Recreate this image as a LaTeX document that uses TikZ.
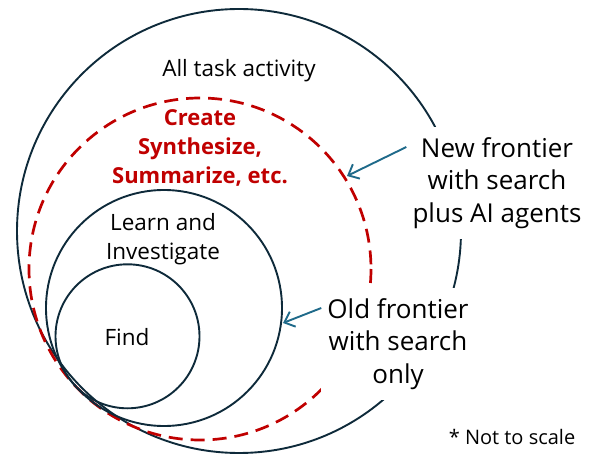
\documentclass[tikz,border=0pt]{standalone}
\usepackage{fontspec}
\setmainfont{Open Sans}
\usetikzlibrary{arrows.meta}
\definecolor{navy}{HTML}{0E2A3A}
\definecolor{darkred}{HTML}{C00000}
\definecolor{teal}{HTML}{1F6A8A}
\tikzset{
  ring/.style={draw=navy, line width=1.9pt},
  dashring/.style={draw=darkred, line width=2.7pt, dash pattern=on 14pt off 8pt},
  plain/.style={font=\fontsize{22.5}{29}\selectfont, text=black, align=center, inner sep=0pt},
  big/.style={font=\fontsize{26}{32.5}\selectfont, text=black, align=center, fill=white, inner xsep=6pt, inner ysep=10pt},
  redtext/.style={font=\fontsize{22}{29}\selectfont\bfseries, text=darkred, align=center, inner sep=0pt},
  pointer/.style={draw=teal, line width=1.9pt, -{Straight Barb[length=9pt,width=16pt]}},
}
\begin{document}
\begin{tikzpicture}[x=1pt,y=-1pt]
\useasboundingbox (0,0) rectangle (592,454);
% circles
\draw[ring] (239,231) circle[radius=222];
\draw[dashring] (200,269) circle[radius=171];
\draw[ring] (164,308) circle[radius=118];
\draw[ring] (127.5,336.3) circle[radius=72];
% labels inside
\node[plain, anchor=base] (all) at (239,77) {All task activity};
\node[redtext] (create) at (200,148) {Create\\Synthesize,\\Summarize, etc.};
\node[plain] (learn) at (163,239) {Learn and\\Investigate};
\node[plain, anchor=base] (find) at (127,346) {Find};
% right labels
\node[big] (new) at (497,183) {New frontier\\with search\\plus AI agents};
\node[big] (old) at (398,344) {Old frontier\\with search\\only};
\node[font=\fontsize{20}{24}\selectfont, anchor=base, inner sep=0pt] (note) at (512,444) {* Not to scale};
% pointers
\coordinate (newtip) at (347,176);
\coordinate (oldtip) at (283,323);
\draw[pointer] (new.west |- 0,147) -- (newtip);
\draw[pointer] (old.west |- 0,308) -- (oldtip);
\end{tikzpicture}
\end{document}
